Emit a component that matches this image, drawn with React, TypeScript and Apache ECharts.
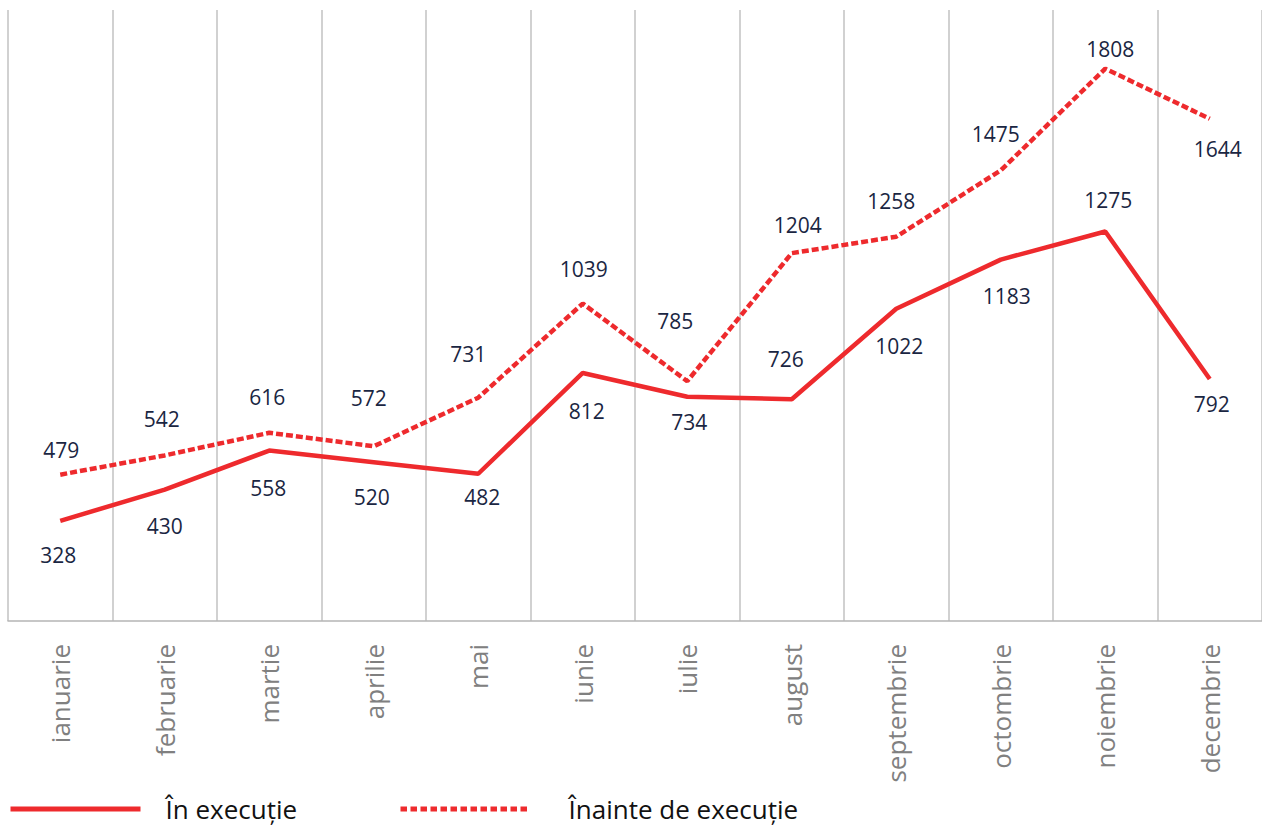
import React, { useEffect, useRef } from "react";
import * as echarts from "echarts";

const months = [
  "ianuarie", "februarie", "martie", "aprilie", "mai", "iunie",
  "iulie", "august", "septembrie", "octombrie", "noiembrie", "decembrie",
];
const inExecutie = [328, 430, 558, 520, 482, 812, 734, 726, 1022, 1183, 1275, 792];
const inainteDeExecutie = [479, 542, 616, 572, 731, 1039, 785, 1204, 1258, 1475, 1808, 1644];

const seriesNames = ["În execuție", "Înainte de execuție"];

// label placement (style only)
const solidLabelPos = ["bottom", "bottom", "bottom", "bottom", "bottom", "bottom", "bottom", "top", "bottom", "bottom", "top", "bottom"];
const solidLabelShift = [[-2, -1], [0, 1], [-1, 2], [-2, -1], [4, -12], [4, 3], [2, -10], [-6, -5], [3, 2], [6, 1], [3, 4], [2, -11]];
const dashedLabelPos = ["top", "top", "top", "top", "top", "top", "top", "top", "top", "top", "top", "bottom"];
const dashedLabelShift = [[1, 11], [-3, -1], [-2, 0], [-5, -13], [-10, -8], [1, 1], [-12, -25], [6, 7], [-5, 0], [-5, -1], [5, 16], [8, -5]];

const RED = "#EE2A2D";
const FONT = "'Open Sans', sans-serif";

function buildData(values: number[], pos: string[], shift: number[][]) {
  return values.map((v, i) => ({
    value: v,
    label: { position: pos[i], offset: shift[i] },
  }));
}

export default function App() {
  const ref = useRef<HTMLDivElement>(null);
  useEffect(() => {
    if (!ref.current) return;
    const chart = echarts.init(ref.current, undefined, { renderer: "svg" });
    const labelStyle = {
      show: true,
      distance: 25,
      fontSize: 21,
      color: "#1A2642",
      fontFamily: FONT,
    };
    const legendText = {
      fontSize: 26,
      color: "#111111",
      fontFamily: FONT,
    };
    chart.setOption({
      animation: false,
      backgroundColor: "#ffffff",
      grid: { left: 8, right: 0, top: 10, bottom: 204, containLabel: false },
      xAxis: {
        type: "category",
        data: months,
        boundaryGap: true,
        axisLine: { show: true, lineStyle: { color: "#b5b5b5", width: 1.5 } },
        axisTick: { show: false },
        splitLine: { show: true, lineStyle: { color: "#c2c2c2", width: 1.5 } },
        axisLabel: {
          rotate: 90,
          margin: 23,
          fontSize: 26,
          color: "#808080",
          fontFamily: FONT,
          interval: 0,
        },
      },
      yAxis: {
        type: "value",
        min: 0,
        max: 2000,
        show: false,
        splitLine: { show: false },
      },
      legend: [
        {
          data: [seriesNames[0]],
          left: 8,
          top: 796,
          padding: 0,
          itemWidth: 130,
          itemHeight: 20,
          lineStyle: { width: 5 },
          itemStyle: { opacity: 0 },
          textStyle: { ...legendText, padding: [0, 0, 0, 20] },
        },
        {
          data: [seriesNames[1]],
          left: 398,
          top: 796,
          padding: 0,
          itemWidth: 130,
          itemHeight: 20,
          lineStyle: { width: 5, type: [6.5, 3.5] },
          itemStyle: { opacity: 0 },
          textStyle: { ...legendText, padding: [0, 0, 0, 33] },
        },
      ],
      series: [
        {
          name: seriesNames[0],
          type: "line",
          data: buildData(inExecutie, solidLabelPos, solidLabelShift),
          symbol: "circle",
          symbolSize: 0,
          showSymbol: true,
          lineStyle: { color: RED, width: 4.5 },
          itemStyle: { color: RED },
          label: labelStyle,
        },
        {
          name: seriesNames[1],
          type: "line",
          data: buildData(inainteDeExecutie, dashedLabelPos, dashedLabelShift),
          symbol: "circle",
          symbolSize: 0,
          showSymbol: true,
          lineStyle: { color: RED, width: 4.5, type: [7, 3] },
          itemStyle: { color: RED },
          label: labelStyle,
        },
      ],
    });
    return () => chart.dispose();
  }, []);
  return (
    <div
      ref={ref}
      style={{ position: "fixed", left: 0, top: 0, width: 1262, height: 825 }}
    />
  );
}
